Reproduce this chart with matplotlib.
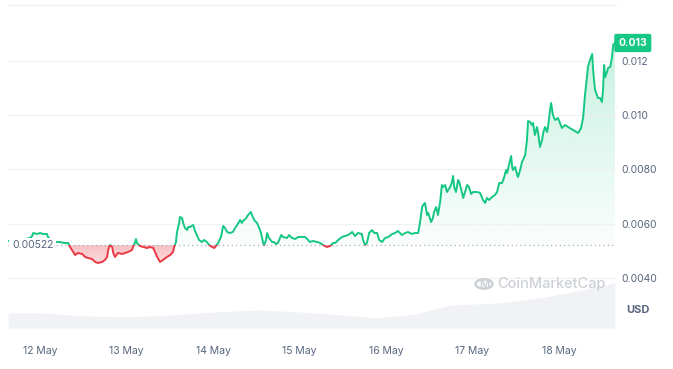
import numpy as np
import matplotlib
matplotlib.use('Agg')
import matplotlib.pyplot as plt
from matplotlib.path import Path
from matplotlib.patches import Rectangle, Circle
from matplotlib.colors import to_rgb

plt.rcParams['font.family'] = ['Inter', 'DejaVu Sans']

# hours since 12 May 00:00
hours = [
    -8.9, -5.5, -2.8, -2.2, -1.9, -0.8, 0.0, 0.8, 1.9, 2.2,
    3.1, 4.2, 5.5, 6.7, 7.8, 8.3, 9.2, 9.7, 10.5, 11.7,
    12.5, 13.3, 14.4, 15.3, 16.1, 17.2, 18.0, 18.6, 18.9, 19.4,
    20.0, 20.3, 20.8, 21.6, 22.8, 23.6, 24.4, 25.5, 25.8, 26.4,
    26.6, 26.9, 27.7, 28.6, 29.7, 30.5, 31.4, 31.9, 32.5, 33.3,
    34.1, 35.2, 36.1, 36.9, 37.2, 37.7, 38.0, 38.6, 38.8, 39.4,
    39.7, 40.2, 40.8, 41.1, 41.6, 42.5, 43.0, 43.6, 44.1, 44.9,
    45.5, 46.3, 46.9, 47.7, 48.3, 48.8, 49.4, 50.2, 50.8, 51.3,
    51.9, 52.7, 53.5, 54.1, 54.7, 55.5, 56.0, 56.3, 57.2, 57.7,
    58.5, 58.8, 59.4, 60.2, 60.8, 61.3, 61.9, 62.2, 62.7, 63.0,
    63.5, 64.4, 64.9, 65.5, 66.0, 66.9, 67.4, 68.5, 69.1, 69.9,
    70.8, 71.6, 72.7, 73.5, 74.1, 74.9, 75.7, 76.9, 77.7, 78.5,
    79.6, 80.5, 81.3, 81.9, 82.7, 83.8, 84.6, 85.5, 86.6, 87.4,
    88.2, 89.3, 89.6, 90.2, 90.7, 91.3, 92.1, 92.7, 93.5, 94.1,
    94.9, 95.7, 96.6, 97.7, 98.5, 99.3, 100.4, 101.3, 102.1, 103.2,
    104.0, 104.9, 105.4, 106.0, 106.3, 106.8, 107.4, 107.7, 108.5, 109.0,
    109.3, 109.9, 110.4, 111.0, 111.5, 111.8, 112.4, 112.9, 113.2, 113.8,
    114.3, 114.6, 114.9, 115.4, 116.0, 116.3, 117.1, 117.4, 117.9, 118.5,
    119.0, 119.6, 120.1, 121.3, 122.1, 122.9, 123.5, 124.0, 124.6, 125.4,
    126.2, 126.8, 127.4, 128.2, 128.7, 129.3, 129.6, 130.1, 130.7, 131.0,
    131.2, 131.8, 132.4, 132.6, 133.2, 133.7, 134.0, 134.6, 135.1, 135.4,
    136.0, 136.5, 136.8, 137.3, 137.9, 138.2, 138.7, 139.3, 139.6, 140.1,
    140.7, 141.0, 141.5, 141.8, 142.3, 142.9, 143.7, 144.8, 145.7, 146.5,
    147.9, 149.3, 150.1, 150.7, 151.2, 151.8, 152.0, 152.6, 153.2, 153.4,
    153.7, 154.0, 154.5, 154.8, 155.4, 155.9, 156.2, 156.5, 156.8, 157.3,
    157.6, 158.2, 158.7, 159.0, 159.5,
]

# price in USD
price = [
    0.005376, 0.005413, 0.005486, 0.005560, 0.005670, 0.005633, 0.005670, 0.005633, 0.005633, 0.005523,
    0.005376, 0.005339, 0.005339, 0.005303, 0.005303, 0.005156, 0.004972, 0.004862, 0.004936, 0.004899,
    0.004789, 0.004752, 0.004716, 0.004606, 0.004569, 0.004606, 0.004679, 0.004789, 0.005046, 0.005229,
    0.005156, 0.004936, 0.004789, 0.004936, 0.004899, 0.004936, 0.004972, 0.005046, 0.005156, 0.005339,
    0.005450, 0.005303, 0.005193, 0.005156, 0.005119, 0.005156, 0.005119, 0.004972, 0.004789, 0.004606,
    0.004679, 0.004789, 0.004862, 0.004972, 0.005156, 0.005339, 0.005706, 0.006037, 0.006257, 0.006220,
    0.006037, 0.005853, 0.005780, 0.005890, 0.005890, 0.005963, 0.005743, 0.005560, 0.005413, 0.005339,
    0.005413, 0.005339, 0.005229, 0.005156, 0.005119, 0.005193, 0.005303, 0.005523, 0.005927, 0.005853,
    0.005706, 0.005670, 0.005706, 0.005853, 0.005963, 0.006147, 0.006037, 0.006110, 0.006220, 0.006330,
    0.006440, 0.006330, 0.006147, 0.006037, 0.005853, 0.005670, 0.005303, 0.005229, 0.005413, 0.005670,
    0.005486, 0.005339, 0.005339, 0.005266, 0.005303, 0.005596, 0.005523, 0.005486, 0.005596, 0.005486,
    0.005450, 0.005523, 0.005523, 0.005523, 0.005450, 0.005339, 0.005376, 0.005339, 0.005303, 0.005229,
    0.005156, 0.005193, 0.005303, 0.005303, 0.005413, 0.005523, 0.005560, 0.005596, 0.005706, 0.005560,
    0.005670, 0.005633, 0.005413, 0.005229, 0.005303, 0.005670, 0.005780, 0.005670, 0.005670, 0.005413,
    0.005339, 0.005486, 0.005523, 0.005633, 0.005670, 0.005743, 0.005596, 0.005670, 0.005706, 0.005633,
    0.005670, 0.005670, 0.006037, 0.006624, 0.006697, 0.006771, 0.006330, 0.006404, 0.006073, 0.006220,
    0.006440, 0.006624, 0.006330, 0.006807, 0.007431, 0.007358, 0.007431, 0.007174, 0.007248, 0.007358,
    0.007541, 0.007762, 0.007358, 0.007174, 0.007615, 0.007541, 0.007138, 0.006954, 0.007174, 0.007431,
    0.007358, 0.007101, 0.007174, 0.007174, 0.007138, 0.006881, 0.006771, 0.006954, 0.006881, 0.006991,
    0.007064, 0.007174, 0.007505, 0.007505, 0.007688, 0.007982, 0.007872, 0.008165, 0.008496, 0.008092,
    0.007982, 0.008092, 0.007798, 0.007725, 0.007982, 0.008275, 0.008349, 0.008532, 0.009083, 0.009780,
    0.009743, 0.009633, 0.009707, 0.009266, 0.009560, 0.009340, 0.008826, 0.009083, 0.009340, 0.009560,
    0.009376, 0.009633, 0.010184, 0.010441, 0.010000, 0.009817, 0.009890, 0.009523, 0.009633, 0.009560,
    0.009450, 0.009340, 0.009523, 0.009927, 0.010734, 0.011468, 0.011762, 0.012019, 0.012239, 0.011762,
    0.011285, 0.010918, 0.010734, 0.010624, 0.010624, 0.010477, 0.010918, 0.011835, 0.011395, 0.011578,
    0.011725, 0.011762, 0.012129, 0.012569, 0.012643,
]

# volume (rough relative scale)
vol_hours = [-8.9, 0.8, 12.8, 24.7, 36.6, 48.6, 60.5, 72.1, 84.1, 90.2,
             92.4, 102.1, 105.4, 111.8, 114.0, 127.6, 138.7, 146.2, 157.3, 159.5]
volume = [15, 15, 12, 11, 13, 16, 18, 16, 13, 11,
          10, 13, 15, 21, 23, 25, 30, 35, 43, 46]

base_price = 0.00522
last_label = "0.013"
day_ticks = [0, 24, 48, 72, 96, 120, 144]
day_labels = ["12 May", "13 May", "14 May", "15 May", "16 May", "17 May", "18 May"]
price_ticks = [0.004, 0.006, 0.008, 0.010, 0.012]
price_labels = ["0.0040", "0.0060", "0.0080", "0.010", "0.012"]

t = np.array(hours)
p = np.array(price)

GREEN = '#16c784'
RED = '#ea3943'
GREY = '#58667e'

W, H = 673, 369
fig = plt.figure(figsize=(W / 100, H / 100), dpi=100)
rect = [8 / W, 41 / H, 608 / W, 323 / H]
xlim = (-8.9, 159.8)
ylim = (0.002183, 0.014037)

# volume behind
ax_vol = fig.add_axes(rect)
ax_vol.fill_between(vol_hours, volume, 0, color='#f0f2f5', lw=0)
ax_vol.set_xlim(xlim)
ax_vol.set_ylim(0, max(volume) * 7.0)
ax_vol.axis('off')

ax = fig.add_axes(rect)
ax.patch.set_alpha(0)


def gradient_fill(mask, color, lo, hi, a_lo, a_hi):
    fb = ax.fill_between(t, p, base_price, where=mask, interpolate=True,
                         facecolor='none', edgecolor='none')
    clip = Path.make_compound_path(*fb.get_paths())
    g = np.linspace(0, 1, 256).reshape(-1, 1)
    rgba = np.zeros((256, 1, 4))
    rgba[..., :3] = to_rgb(color)
    rgba[..., 3] = a_lo + (a_hi - a_lo) * g
    im = ax.imshow(rgba, extent=(xlim[0], xlim[1], lo, hi), origin='lower',
                   aspect='auto', zorder=1, interpolation='bilinear')
    im.set_clip_path(clip, transform=ax.transData)


gradient_fill(p >= base_price, GREEN, base_price, p.max(), 0.02, 0.24)
gradient_fill(p < base_price, RED, p.min(), base_price, 0.18, 0.32)

# line, green above base and red below
above = Rectangle((xlim[0], base_price), xlim[1] - xlim[0], 1, transform=ax.transData)
below = Rectangle((xlim[0], base_price - 1), xlim[1] - xlim[0], 1, transform=ax.transData)
lg, = ax.plot(t, p, color=GREEN, lw=1.4, zorder=3, solid_joinstyle='round')
lg.set_clip_path(above)
lr, = ax.plot(t, p, color=RED, lw=1.4, zorder=3, solid_joinstyle='round')
lr.set_clip_path(below)

ax.axhline(base_price, color='#a6acb8', lw=0.9, ls=(0, (1, 2.5)), zorder=2)
ax.text((12 - 8) / 608, base_price, "0.00522", transform=ax.get_yaxis_transform(),
        ha='left', va='center', fontsize=7.5, color=GREY, zorder=5,
        bbox=dict(boxstyle='square,pad=0.25', fc='white', ec='none'))

ax.set_xlim(xlim)
ax.set_ylim(ylim)
ax.set_xticks(day_ticks)
ax.set_xticklabels(day_labels)
ax.set_yticks(price_ticks)
ax.set_yticklabels(price_labels)
ax.yaxis.tick_right()
ax.tick_params(axis='y', length=0, pad=4, labelsize=7.5, labelcolor=GREY)
ax.tick_params(axis='x', length=0, pad=13, labelsize=7.5, labelcolor=GREY)
ax.grid(axis='y', color='#eff1f4', lw=0.8, zorder=0)
for s in ['left', 'right', 'bottom']:
    ax.spines[s].set_visible(False)
ax.spines['top'].set_color('#eceff3')
ax.spines['top'].set_linewidth(0.8)

# current price tag
ax.text(1.004, p[-1], last_label, transform=ax.get_yaxis_transform(),
        ha='left', va='center', fontsize=7.5, color='white', fontweight='bold', zorder=6,
        bbox=dict(boxstyle='round,pad=0.4,rounding_size=0.2', fc=GREEN, ec='none'))

fig.text(638 / W, 1 - 310 / H, "USD", ha='center', va='center', fontsize=8,
         color=GREY, fontweight='bold')

# watermark
fig.patches.append(Circle((484 / W, 1 - 284 / H), 8.5 / W, transform=fig.transFigure,
                          fill=False, ec='#cdd1d6', lw=1.8))
fig.text(484 / W, 1 - 284.5 / H, "M", ha='center', va='center', fontsize=8,
         color='#cdd1d6', fontweight='bold')
fig.text(497 / W, 1 - 284 / H, "CoinMarketCap", ha='left', va='center', fontsize=10.5,
         color='#cdd1d6', fontweight='medium')

fig.savefig('out.png', dpi=100)
